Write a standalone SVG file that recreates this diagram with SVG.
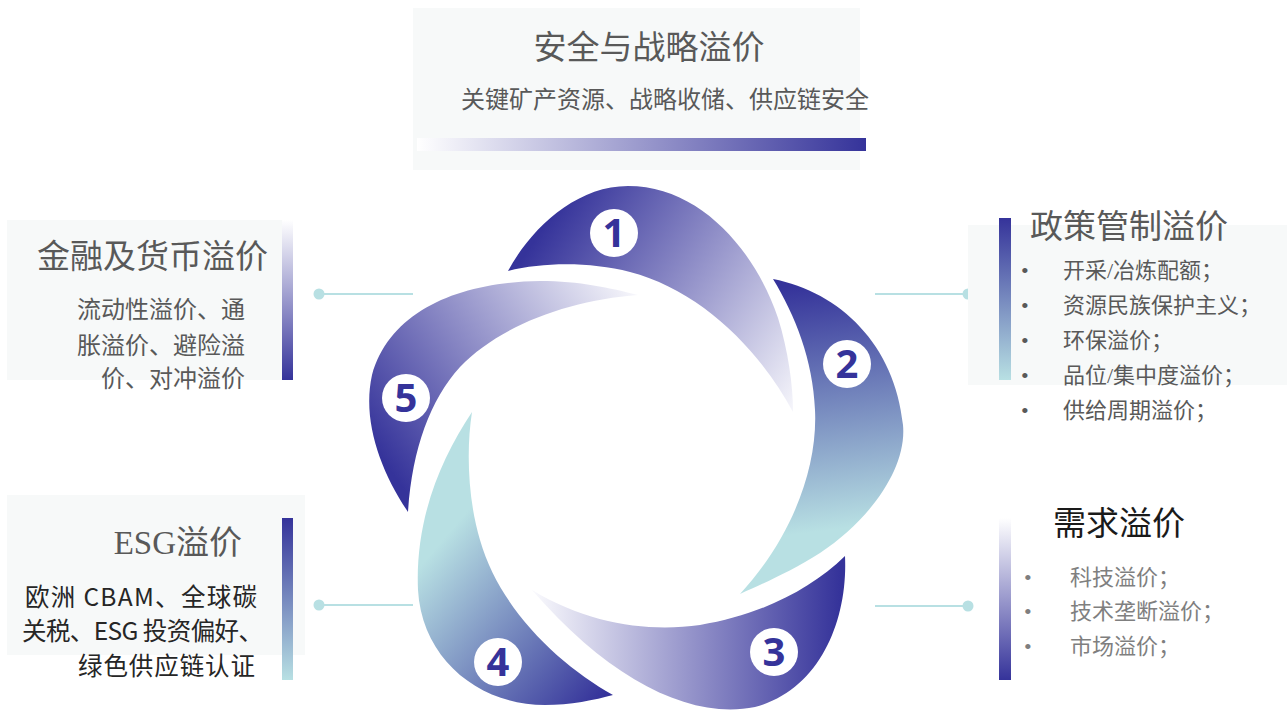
<svg xmlns="http://www.w3.org/2000/svg" width="1287" height="712" viewBox="0 0 1287 712">
<style>
.bg{fill:#f7f9f9}
.song{font-family:"Liberation Serif","Noto Sans CJK SC",serif}
.sans{font-family:"Noto Sans CJK SC","Noto Sans",sans-serif}
.ttl{font-size:33px;fill:#595959}
.sub{font-size:24px;fill:#595959}
.li{font-size:22px;fill:#595959}
.li2{font-size:22px;fill:#7f7f7f}
.num{font-family:"Open Sans","Liberation Sans",sans-serif;font-weight:700;font-size:40px;fill:#35339a;text-anchor:middle}
.conn line{stroke:#b8e0e3;stroke-width:2}
.conn circle{fill:#b8e0e3}
</style>
<defs>
<linearGradient id="gDW" x1="0" y1="0" x2="0" y2="1"><stop offset="0" stop-color="#ffffff"/><stop offset="1" stop-color="#35339a"/></linearGradient>
<linearGradient id="gDT" x1="0" y1="0" x2="0" y2="1"><stop offset="0" stop-color="#35339a"/><stop offset="1" stop-color="#b8e0e3"/></linearGradient>
<linearGradient id="gH" x1="0" y1="0" x2="1" y2="0"><stop offset="0" stop-color="#ffffff"/><stop offset="1" stop-color="#35339a"/></linearGradient>
<linearGradient id="b1" gradientUnits="userSpaceOnUse" x1="535" y1="240" x2="795" y2="415"><stop offset="0" stop-color="#35339a"/><stop offset="1" stop-color="#f8f8fc"/></linearGradient>
<linearGradient id="b2" gradientUnits="userSpaceOnUse" x1="800" y1="285" x2="830" y2="530"><stop offset="0" stop-color="#35339a"/><stop offset="1" stop-color="#b8e0e3"/></linearGradient>
<linearGradient id="b3" gradientUnits="userSpaceOnUse" x1="840" y1="610" x2="535" y2="610"><stop offset="0" stop-color="#35339a"/><stop offset="1" stop-color="#f8f8fc"/></linearGradient>
<linearGradient id="b4" gradientUnits="userSpaceOnUse" x1="600" y1="700" x2="430" y2="555"><stop offset="0" stop-color="#35339a"/><stop offset="1" stop-color="#b8e0e3"/></linearGradient>
<linearGradient id="b5" gradientUnits="userSpaceOnUse" x1="390" y1="470" x2="640" y2="295"><stop offset="0" stop-color="#35339a"/><stop offset="1" stop-color="#f8f8fc"/></linearGradient>
</defs>
<rect width="1287" height="712" fill="#ffffff"/>

<g id="connectors" class="conn">
<line x1="319" y1="294" x2="413" y2="294"/><circle cx="319" cy="294" r="5.5"/>
<line x1="319" y1="605" x2="413" y2="605"/><circle cx="319" cy="605" r="5.5"/>
<line x1="875" y1="294" x2="968" y2="294"/><circle cx="968" cy="294" r="5.5"/>
<line x1="875" y1="606" x2="968" y2="606"/><circle cx="968" cy="606" r="5.5"/>
</g>

<g id="node-top">
<rect class="bg" x="413" y="8" width="447" height="162"/>
<text class="song ttl" x="649" y="59" text-anchor="middle" font-size="32">安全与战略溢价</text>
<text class="song sub" x="461" y="108">关键矿产资源、战略收储、供应链安全</text>
<rect x="417" y="138" width="449" height="13" fill="url(#gH)"/>
</g>

<g id="node-finance">
<rect class="bg" x="7" y="220" width="286" height="160"/>
<rect x="282" y="220" width="11" height="160" fill="url(#gDW)"/>
<text class="song ttl" x="37" y="268">金融及货币溢价</text>
<text class="song sub" x="245" y="318" text-anchor="end">流动性溢价、通</text>
<text class="song sub" x="245" y="354" text-anchor="end">胀溢价、避险溢</text>
<text class="song sub" x="245" y="387" text-anchor="end">价、对冲溢价</text>
</g>

<g id="node-policy">
<rect class="bg" x="968" y="225" width="319" height="160"/>
<rect x="999" y="218" width="12" height="162" fill="url(#gDT)"/>
<text class="song ttl" x="1030" y="238">政策管制溢价</text>
<g class="song li">
<text x="1021" y="278">•</text><text x="1063" y="278">开采/冶炼配额；</text>
<text x="1021" y="313">•</text><text x="1063" y="313">资源民族保护主义；</text>
<text x="1021" y="348">•</text><text x="1063" y="348">环保溢价；</text>
<text x="1021" y="383">•</text><text x="1063" y="383">品位/集中度溢价；</text>
<text x="1021" y="418">•</text><text x="1063" y="418">供给周期溢价；</text>
</g>
</g>

<g id="node-demand">
<rect x="999" y="518" width="12" height="162" fill="url(#gDW)"/>
<text class="song ttl" x="1053" y="535" font-size="32" style="fill:#1a1a1a">需求溢价</text>
<g class="song li2">
<text x="1024" y="585">•</text><text x="1070" y="585">科技溢价；</text>
<text x="1024" y="619">•</text><text x="1070" y="619">技术垄断溢价；</text>
<text x="1024" y="654">•</text><text x="1070" y="654">市场溢价；</text>
</g>
</g>

<g id="node-esg">
<rect class="bg" x="7" y="495" width="298" height="160"/>
<rect x="282" y="518" width="11" height="162" fill="url(#gDT)"/>
<text class="song ttl" x="242" y="554" text-anchor="end" font-size="30">ESG溢价</text>
<g class="sans" font-size="24.5" fill="#262626">
<text x="25" y="606" textLength="232" lengthAdjust="spacing">欧洲 CBAM、全球碳</text>
<text x="22" y="640" textLength="241" lengthAdjust="spacing">关税、ESG 投资偏好、</text>
<text x="78" y="675" textLength="177" lengthAdjust="spacing">绿色供应链认证</text>
</g>
</g>

<g id="wheel">
<path id="blade1" fill="url(#b1)" d="M508,271 C530,230 575,186 628,186 C700,186 755,250 778,318 C788,350 793,385 793,412 C760,350 700,290 630,272 C590,262 545,262 508,271 Z"/>
<path id="blade2" fill="url(#b2)" d="M773,279 C840,292 895,345 903,425 C907,468 870,520 820,553 C790,572 762,584 740,594 C790,540 818,470 815,410 C813,360 795,315 773,279 Z"/>
<path id="blade3" fill="url(#b3)" d="M845,556 C848,620 820,690 755,707 C690,720 610,680 532,590 C590,625 650,632 700,625 C760,615 810,590 845,556 Z"/>
<path id="blade4" fill="url(#b4)" d="M472,412 C440,460 415,520 418,590 C422,660 480,705 545,705 C570,705 595,700 613,695 C560,665 500,610 480,540 C468,500 466,450 472,412 Z"/>
<path id="blade5" fill="url(#b5)" d="M408,512 C380,470 362,420 372,375 C390,310 460,282 540,281 C580,281 610,288 638,295 C570,300 500,325 460,367 C430,400 412,450 408,512 Z"/>
</g>

<g id="badge1"><circle cx="614" cy="233" r="24" fill="#ffffff"/><text class="num" x="614" y="247">1</text></g>
<g id="badge2"><circle cx="847" cy="364" r="24" fill="#ffffff"/><text class="num" x="847" y="378">2</text></g>
<g id="badge3"><circle cx="774" cy="652" r="24" fill="#ffffff"/><text class="num" x="774" y="666">3</text></g>
<g id="badge4"><circle cx="498" cy="662" r="24" fill="#ffffff"/><text class="num" x="498" y="676">4</text></g>
<g id="badge5"><circle cx="406" cy="398" r="24" fill="#ffffff"/><text class="num" x="406" y="412">5</text></g>
</svg>
